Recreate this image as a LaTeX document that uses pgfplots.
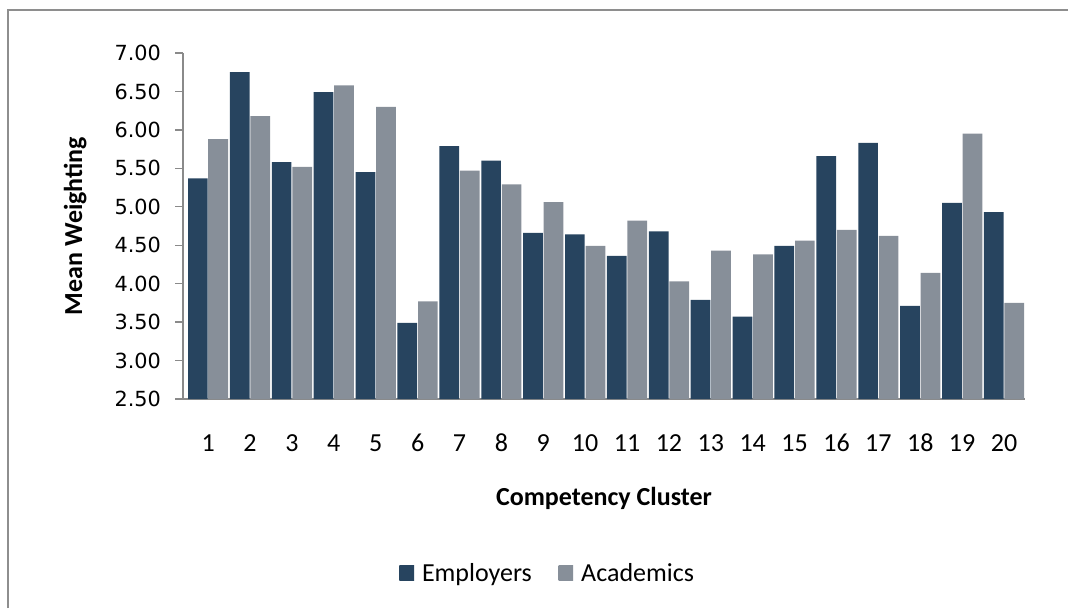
\documentclass[border=0pt]{standalone}
\usepackage{pgfplots}
\pgfplotsset{compat=1.18}
\usepackage{pgfplotstable}
\usepackage{fontspec}
\setmainfont{Carlito}
\newfontfamily\dejavu{DejaVu Sans}

\definecolor{framegray}{HTML}{8E8E8E}
\definecolor{axisgray}{HTML}{8A8A8A}
\definecolor{empEdge}{HTML}{27445F}
\definecolor{empMid}{HTML}{51779A}
\definecolor{acaEdge}{HTML}{878F99}
\definecolor{acaMid}{HTML}{BEC5CC}

% mean weighting per competency cluster
\pgfplotstableread{
cat emp aca
1  5.37 5.88
2  6.75 6.18
3  5.58 5.52
4  6.49 6.58
5  5.45 6.30
6  3.49 3.77
7  5.79 5.47
8  5.60 5.29
9  4.66 5.06
10 4.64 4.49
11 4.36 4.82
12 4.68 4.03
13 3.79 4.43
14 3.57 4.38
15 4.49 4.56
16 5.66 4.70
17 5.83 4.62
18 3.71 4.14
19 5.05 5.95
20 4.93 3.75
}\weights

\begin{document}
\begin{tikzpicture}[x=0.75pt,y=0.75pt]
\path[use as bounding box] (0,0) rectangle (1068,608);
\draw[framegray, line width=1.2pt] (8,0) -- (8,598) -- (1068,598);
\begin{axis}[
    at={(137.25pt,156.75pt)}, anchor=south west,
    scale only axis, width=631.5pt, height=259.5pt,
    xmin=0.4, xmax=20.5, ymin=2.5, ymax=7,
    axis lines*=left,
    axis line style={axisgray, line width=1pt},
    tick align=outside,
    major tick length=6pt,
    ytick style={axisgray, line width=1pt},
    xtick style={draw=none},
    xtick={1,...,20},
    ytick={2.5,3,...,7},
    /pgf/number format/assume math mode=true,
    yticklabel style={font=\dejavu\fontsize{15.6}{18}\selectfont, xshift=-7pt,
        /pgf/number format/.cd, fixed, fixed zerofill, precision=2},
    xticklabel style={font=\fontsize{19.5}{22}\selectfont, anchor=center, yshift=-27pt},
    xlabel={\bfseries Competency Cluster},
    ylabel={\bfseries Mean Weighting},
    label style={font=\fontsize{19.5}{22}\selectfont},
    xlabel style={at={(axis description cs:0.5,-0.286)}, anchor=center},
    ylabel style={at={(axis description cs:-0.128,0.5)}, anchor=center},
    ybar, bar width=0.47,
    legend style={at={(0.4335,-0.503)}, anchor=center, draw=none,
        font=\fontsize{19.5}{22}\selectfont,
        /tikz/every odd column/.append style={column sep=4pt},
        /tikz/every even column/.append style={column sep=18pt}},
    legend columns=2,
    legend image code/.code={\fill[#1] (0pt,-5.5pt) rectangle (11pt,5.5pt);},
]
\addplot[draw=none, left color=empEdge, middle color=empMid, right color=empEdge, bar shift=-0.245] table[x=cat, y=emp] {\weights};
\addlegendentry{Employers}
\addplot[draw=none, left color=acaEdge, middle color=acaMid, right color=acaEdge, bar shift=0.245] table[x=cat, y=aca] {\weights};
\addlegendentry{Academics}
\end{axis}
\end{tikzpicture}
\end{document}
